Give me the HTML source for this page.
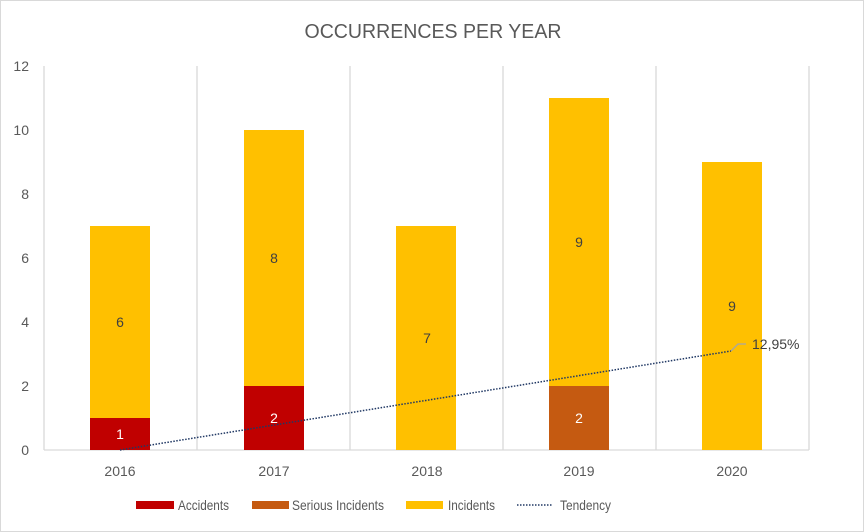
<!DOCTYPE html>
<html><head><meta charset="utf-8"><style>
html,body{margin:0;padding:0;background:#fff;}
svg{display:block;font-family:"Liberation Sans",sans-serif;}
</style></head><body>
<svg width="864" height="532" viewBox="0 0 864 532" xmlns="http://www.w3.org/2000/svg">
<rect x="0.5" y="0.5" width="863" height="531" fill="#fff" stroke="#d9d9d9"/>
<text x="433" y="38" text-anchor="middle" font-size="20" fill="#595959" textLength="257" lengthAdjust="spacingAndGlyphs">OCCURRENCES PER YEAR</text>
<g stroke="#d9d9d9" stroke-width="1.3">
<line x1="44" y1="66" x2="44" y2="450"/><line x1="197" y1="66" x2="197" y2="450"/>
<line x1="350" y1="66" x2="350" y2="450"/><line x1="503" y1="66" x2="503" y2="450"/>
<line x1="656" y1="66" x2="656" y2="450"/><line x1="809" y1="66" x2="809" y2="450"/>
<line x1="44" y1="450" x2="809" y2="450"/>
</g>
<g font-size="14" fill="#595959" text-anchor="end">
<text x="29" y="455">0</text><text x="29" y="391">2</text><text x="29" y="327">4</text>
<text x="29" y="263">6</text><text x="29" y="199">8</text><text x="29" y="135">10</text><text x="29" y="71">12</text>
</g>
<g font-size="14" fill="#595959" text-anchor="middle">
<text x="120" y="476">2016</text><text x="274" y="476">2017</text><text x="427" y="476">2018</text>
<text x="579" y="476">2019</text><text x="732" y="476">2020</text>
</g>
<rect x="90" y="418" width="60" height="32" fill="#c00000"/>
<rect x="90" y="226" width="60" height="192" fill="#ffc000"/>
<rect x="244" y="386" width="60" height="64" fill="#c00000"/>
<rect x="244" y="130" width="60" height="256" fill="#ffc000"/>
<rect x="396" y="226" width="60" height="224" fill="#ffc000"/>
<rect x="549" y="386" width="60" height="64" fill="#c55a11"/>
<rect x="549" y="98" width="60" height="288" fill="#ffc000"/>
<rect x="702" y="162" width="60" height="288" fill="#ffc000"/>
<g font-size="14" text-anchor="middle">
<text x="120" y="439" fill="#fff">1</text>
<text x="120" y="327" fill="#404040">6</text>
<text x="274" y="423" fill="#fff">2</text>
<text x="274" y="263" fill="#404040">8</text>
<text x="427" y="343" fill="#404040">7</text>
<text x="579" y="423" fill="#fff">2</text>
<text x="579" y="247" fill="#404040">9</text>
<text x="732" y="311" fill="#404040">9</text>
</g>
<line x1="120" y1="450" x2="731" y2="351" stroke="#203864" stroke-width="1.5" stroke-dasharray="1.5,1.5"/>
<polyline points="731,351 738,344 746,344" fill="none" stroke="#a6a6a6" stroke-width="1.3"/>
<text x="752" y="349" font-size="14" fill="#404040">12,95%</text>
<rect x="136" y="501" width="38" height="8" fill="#c00000"/>
<text x="178" y="510" font-size="14" fill="#595959" textLength="51" lengthAdjust="spacingAndGlyphs">Accidents</text>
<rect x="252" y="501" width="37" height="8" fill="#c55a11"/>
<text x="292" y="510" font-size="14" fill="#595959" textLength="92" lengthAdjust="spacingAndGlyphs">Serious Incidents</text>
<rect x="406" y="501" width="37" height="8" fill="#ffc000"/>
<text x="448" y="510" font-size="14" fill="#595959" textLength="47" lengthAdjust="spacingAndGlyphs">Incidents</text>
<line x1="517" y1="505" x2="553" y2="505" stroke="#203864" stroke-width="1.5" stroke-dasharray="1.5,1.5"/>
<text x="560" y="510" font-size="14" fill="#595959" textLength="51" lengthAdjust="spacingAndGlyphs">Tendency</text>
</svg>
</body></html>
